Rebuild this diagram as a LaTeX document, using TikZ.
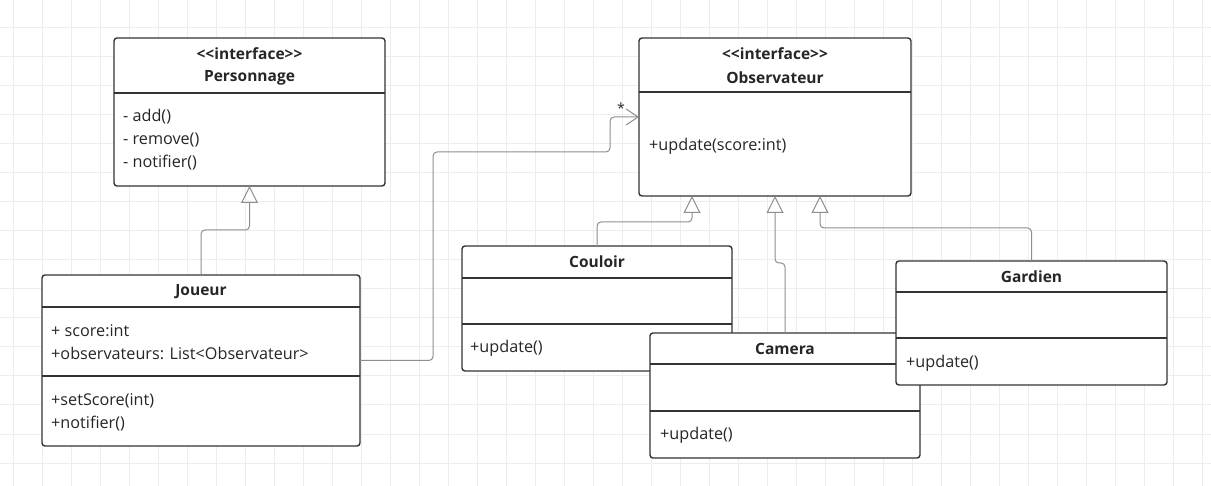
\documentclass[tikz,border=0pt]{standalone}
\usepackage{fontspec}
\setmainfont{Open Sans}[Ligatures=TeXOff]
\usepackage{xcolor}
\usepackage{tikz}
\usetikzlibrary{arrows.meta,positioning}

\definecolor{boxline}{HTML}{333333}
\definecolor{linkline}{HTML}{8E8E8E}
\definecolor{gridgray}{HTML}{EDEDED}
\definecolor{textgray}{HTML}{262626}

\begin{document}
\begin{tikzpicture}[x=1pt, y=-1pt,
    umlbox/.style={rectangle, rounded corners=3pt, draw=boxline, line width=1.4pt, fill=white, inner sep=0pt, outer sep=0pt},
    classbox/.style={umlbox, minimum width=270pt, minimum height=125pt},
    classname/.style={font=\bfseries\fontsize{15.5}{17}\selectfont, text=textgray, inner sep=0pt},
    members/.style={font=\fontsize{16.2}{23}\selectfont, text=textgray, align=left, anchor=west, inner sep=0pt},
    divider/.style={draw=boxline, line width=1.4pt},
    gridline/.style={draw=gridgray, line width=1pt},
    inherit/.style={-{Triangle[open, length=17pt, width=17pt]}, draw=linkline, line width=1pt, rounded corners=4pt},
    assoc/.style={-{Straight Barb[length=12pt, width=16pt]}, draw=linkline, line width=1pt, rounded corners=4pt}
]
    \fill[white] (0,0) rectangle (1211,486);
    \useasboundingbox (0,0) rectangle (1211,486);
    \foreach \gx in {0,...,41} \draw[gridline] (13.3+29*\gx,0) -- (13.3+29*\gx,486);
    \foreach \gy in {1,...,16} \draw[gridline] (0,29*\gy-1) -- (1211,29*\gy-1);

    \node[umlbox, minimum width=271pt, minimum height=148pt] (personnage) at (249.5,112) {};
    \draw[divider] ([yshift=-55pt]personnage.north west) -- ([yshift=-55pt]personnage.north east);
    \node[classname] (personnage-stereo) at (249.5,54) {<<interface>>};
    \node[classname] (personnage-name) at (249.5,78) {Personnage};
    \node[members] (personnage-ops) at (123,140) {- add()\\- remove()\\- notifier()};

    \node[umlbox, minimum width=318pt, minimum height=171pt] (joueur) at (201,360.5) {};
    \draw[divider] ([yshift=-32pt]joueur.north west) -- ([yshift=-32pt]joueur.north east);
    \draw[divider] ([yshift=-101pt]joueur.north west) -- ([yshift=-101pt]joueur.north east);
    \node[classname] (joueur-name) at (201,292) {Joueur};
    \node[members] (joueur-attrs) at (51,342) {+ score:int\\+observateurs: List<Observateur>};
    \node[members] (joueur-ops) at (51,412.5) {+setScore(int)\\+notifier()};

    \node[umlbox, minimum width=272pt, minimum height=158pt] (observateur) at (775,117) {};
    \draw[divider] ([yshift=-54pt]observateur.north west) -- ([yshift=-54pt]observateur.north east);
    \node[classname] (observateur-stereo) at (775,54) {<<interface>>};
    \node[classname] (observateur-name) at (775,78) {Observateur};
    \node[members] (observateur-ops) at (649,146) {+update(score:int)};

    \node[classbox] (couloir) at (597,308.5) {};
    \draw[divider] ([yshift=-32pt]couloir.north west) -- ([yshift=-32pt]couloir.north east);
    \draw[divider] ([yshift=-78pt]couloir.north west) -- ([yshift=-78pt]couloir.north east);
    \node[classname] (couloir-name) at (597,262) {Couloir};
    \node[members] (couloir-ops) at (470,348) {+update()};

    \node[classbox] (camera) at (785,395.5) {};
    \draw[divider] ([yshift=-31pt]camera.north west) -- ([yshift=-31pt]camera.north east);
    \draw[divider] ([yshift=-78pt]camera.north west) -- ([yshift=-78pt]camera.north east);
    \node[classname] (camera-name) at (785,349) {Camera};
    \node[members] (camera-ops) at (660,435) {+update()};

    \node[classbox, minimum width=271pt, minimum height=124pt] (gardien) at (1031.5,323) {};
    \draw[divider] ([yshift=-31pt]gardien.north west) -- ([yshift=-31pt]gardien.north east);
    \draw[divider] ([yshift=-77pt]gardien.north west) -- ([yshift=-77pt]gardien.north east);
    \node[classname] (gardien-name) at (1031.5,277) {Gardien};
    \node[members] (gardien-ops) at (906,363) {+update()};

    \draw[inherit] (joueur.north) -- ++(0,-45) -| (personnage.south);
    \draw[inherit] (couloir.north) -- ++(0,-24) -| ([xshift=-83pt]observateur.south);
    \draw[inherit] (camera.north) -- ++(0,-70) -| (observateur.south);
    \draw[inherit] (gardien.north) -- ++(0,-33) -| ([xshift=45pt]observateur.south);
    \draw[assoc] (joueur.east) -| (433,152) -| (610,117) -- (observateur.west);
    \node[font=\fontsize{14}{14}\selectfont, text=textgray, inner sep=0pt] (mult) at (621,108) {*};
\end{tikzpicture}
\end{document}
